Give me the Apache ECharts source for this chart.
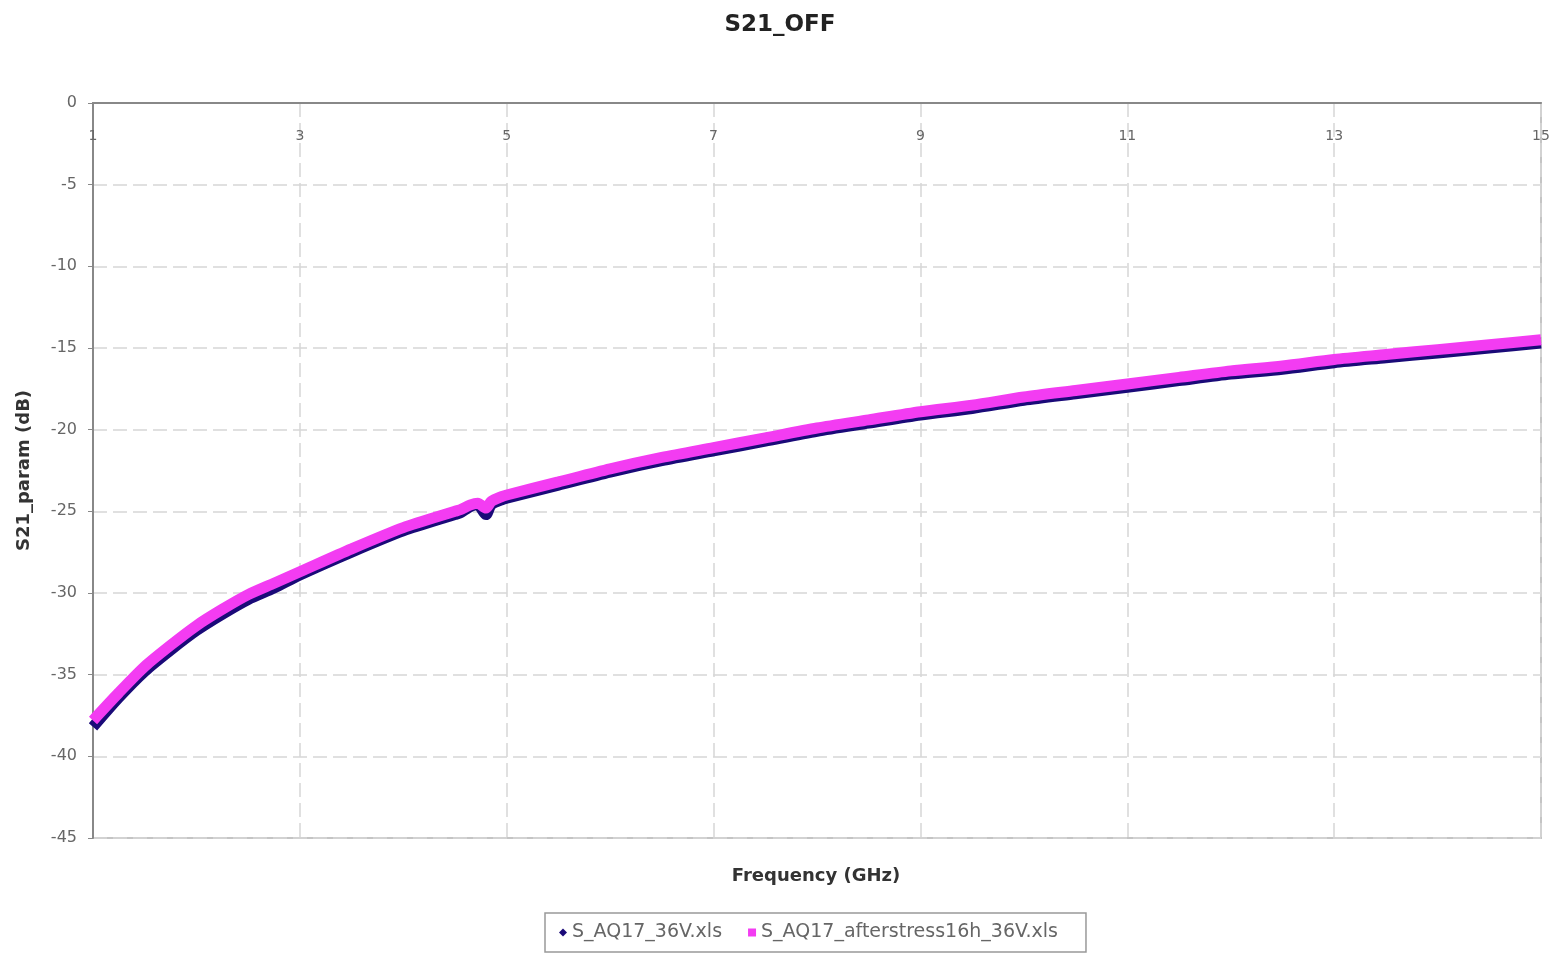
<!DOCTYPE html>
<html>
<head>
<meta charset="utf-8">
<script src="https://cdn.jsdelivr.net/npm/echarts@6/dist/echarts.min.js"></script>
<style>html,body{margin:0;padding:0;background:#fff;}#c{width:1560px;height:954px;}</style>
</head>
<body>
<div id="c"></div>
<script>
const freqs = [1.0,1.25,1.5,1.75,2.0,2.25,2.5,2.75,3.0,3.5,4.0,4.5,4.55,4.65,4.72,4.8,4.85,4.95,5.0,5.5,6.0,6.5,7.0,7.5,8.0,8.5,9.0,9.5,10,10.5,11,11.5,12,12.5,13,13.5,14,14.5,15];
const s21Before = [-38.2,-36.4,-34.8,-33.5,-32.3,-31.3,-30.4,-29.7,-28.9,-27.5,-26.2,-25.2,-25.1,-24.7,-24.6,-25.2,-24.6,-24.3,-24.2,-23.4,-22.6,-21.9,-21.3,-20.7,-20.1,-19.6,-19.1,-18.7,-18.2,-17.8,-17.4,-17.0,-16.6,-16.3,-15.9,-15.6,-15.3,-15.0,-14.7];
const s21After = [-37.8,-36.1,-34.5,-33.2,-32.0,-31.0,-30.1,-29.4,-28.7,-27.3,-26.0,-25.0,-24.9,-24.6,-24.5,-24.8,-24.4,-24.1,-24.0,-23.2,-22.4,-21.7,-21.1,-20.5,-19.9,-19.4,-18.9,-18.5,-18.0,-17.6,-17.2,-16.8,-16.4,-16.1,-15.7,-15.4,-15.1,-14.8,-14.5];
const seriesNames = ['S_AQ17_36V.xls','S_AQ17_afterstress16h_36V.xls'];
const xTicks = [1,3,5,7,9,11,13,15];
const yTicks = [0,-5,-10,-15,-20,-25,-30,-35,-40,-45];

const chart = echarts.init(document.getElementById('c'));
const wide = 'DejaVu Sans, sans-serif';
chart.setOption({
  animation: false,
  backgroundColor: '#fff',
  title: {
    text: 'S21_OFF', left: 'center', top: 9,
    textStyle: {fontFamily: wide, fontSize: 23, fontWeight: 'bold', color: '#222'}
  },
  graphic: [{
    type: 'text', x: 816, y: 876,
    style: {text: 'Frequency (GHz)', fontFamily: wide, fontSize: 18, fontWeight: 'bold', fill: '#333', textAlign: 'center', textVerticalAlign: 'middle'}
  }],
  grid: {left: 93, right: 19, top: 103, bottom: 116, containLabel: false, show: true, borderColor: '#c4c4c4', borderWidth: 2},
  legend: {
    left: 545, top: 913, itemWidth: 8, itemHeight: 8, itemGap: 26,
    padding: [10, 28, 10, 14],
    borderColor: '#999', borderWidth: 1.5,
    textStyle: {fontFamily: wide, fontSize: 19, color: '#666'},
    data: [{name: seriesNames[0], icon: 'diamond'}, {name: seriesNames[1], icon: 'rect'}]
  },
  xAxis: {
    type: 'value', min: 1, max: 15, interval: 2, position: 'top',
    axisLine: {show: true, lineStyle: {color: '#888', width: 2}},
    axisTick: {show: false},
    axisLabel: {inside: true, margin: 26, fontFamily: wide, fontSize: 14, color: '#666',
      formatter: v => xTicks.includes(v) ? String(v) : ''},
    splitLine: {show: true, lineStyle: {color: '#d6d6d6', type: [14, 6], width: 1.5}}
  },
  yAxis: {
    type: 'value', min: -45, max: 0, interval: 5,
    name: 'S21_param (dB)', nameLocation: 'middle', nameGap: 60, nameRotate: 90,
    nameTextStyle: {fontFamily: wide, fontSize: 18, fontWeight: 'bold', color: '#333'},
    axisLine: {show: true, onZero: false, lineStyle: {color: '#888', width: 2}},
    axisTick: {show: true, length: 5, lineStyle: {color: '#888'}},
    axisLabel: {margin: 16, fontFamily: wide, fontSize: 16, color: '#666',
      formatter: v => yTicks.includes(v) ? String(v) : ''},
    splitLine: {show: true, lineStyle: {color: '#d6d6d6', type: [14, 6], width: 1.5}}
  },
  series: [
    {
      name: seriesNames[0], type: 'line', smooth: 0.25, showSymbol: false,
      itemStyle: {color: '#1a0a78'},
      lineStyle: {color: '#1a0a78', width: 11},
      data: freqs.map((f, i) => [f, s21Before[i]])
    },
    {
      name: seriesNames[1], type: 'line', smooth: 0.25, showSymbol: false,
      itemStyle: {color: '#f33cf2'},
      lineStyle: {color: '#f33cf2', width: 11},
      data: freqs.map((f, i) => [f, s21After[i]])
    }
  ]
});
</script>
</body>
</html>
